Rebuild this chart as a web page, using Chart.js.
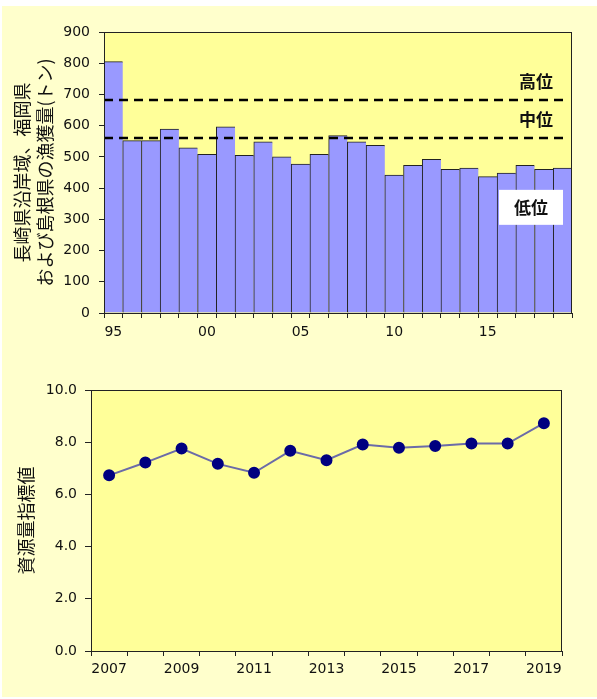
<!DOCTYPE html>
<html lang="ja">
<head>
<meta charset="UTF-8">
<title>漁獲量と資源量指標値</title>
<script src="https://cdn.jsdelivr.net/npm/chart.js"></script>
<style>
  html, body { margin: 0; padding: 0; background: #fff; }
  #panel { position: absolute; left: 2px; top: 6px; width: 595px; height: 691px; background: #FFFFCC; }
  #catchWrap { position: absolute; left: 0; top: 0; }
  #indexWrap { position: absolute; left: 0; top: 345px; }
</style>
</head>
<body>
<div id="panel"></div>
<div id="catchWrap"><canvas id="catchChart" width="597" height="345"></canvas></div>
<div id="indexWrap"><canvas id="indexChart" width="597" height="354"></canvas></div>

<script>
// 漁獲量 (トン), 1995-2019
const catchYears = [1995, 1996, 1997, 1998, 1999, 2000, 2001, 2002, 2003, 2004, 2005, 2006, 2007,
                    2008, 2009, 2010, 2011, 2012, 2013, 2014, 2015, 2016, 2017, 2018, 2019];
const catchTons = [805, 552, 552, 589, 529, 508, 596, 505, 548, 500, 477, 508, 568,
                   548, 537, 442, 473, 492, 460, 464, 437, 448, 473, 460, 464];
// 水準の境界 (高位/中位, 中位/低位)
const levelBounds = [683, 560];
const levelNames = ['高位', '中位', '低位'];

// 資源量指標値, 2007-2019
const indexYears = [2007, 2008, 2009, 2010, 2011, 2012, 2013, 2014, 2015, 2016, 2017, 2018, 2019];
const indexValues = [6.73, 7.22, 7.76, 7.17, 6.83, 7.67, 7.31, 7.91, 7.79, 7.85, 7.95, 7.95, 8.73];

const tickFont = { family: 'DejaVu Sans', size: 14 };
const cjkFont = '"Noto Sans CJK JP", sans-serif';
const ink = '#111';

// plot background + frame
const plotFrame = {
  id: 'plotFrame',
  beforeDraw(chart) {
    const { ctx, chartArea: a } = chart;
    ctx.save();
    ctx.fillStyle = '#FFFF99';
    ctx.fillRect(a.left, a.top, a.right - a.left, a.bottom - a.top);
    ctx.restore();
  },
  afterDraw(chart) {
    const { ctx, chartArea: a } = chart;
    ctx.save();
    ctx.strokeStyle = '#222';
    ctx.lineWidth = 1;
    ctx.strokeRect(a.left + 0.5, a.top + 0.5, a.right - a.left - 1, a.bottom - a.top);
    ctx.restore();
  }
};

// dashed level lines and labels
const levelMarks = {
  id: 'levelMarks',
  afterDatasetsDraw(chart) {
    const { ctx, chartArea: a, scales: { y } } = chart;
    ctx.save();
    ctx.strokeStyle = '#000';
    ctx.lineWidth = 2.5;
    ctx.setLineDash([9, 6]);
    levelBounds.forEach(v => {
      const py = Math.round(y.getPixelForValue(v));
      ctx.beginPath();
      ctx.moveTo(a.left, py);
      ctx.lineTo(a.right - 4, py);
      ctx.stroke();
    });
    ctx.setLineDash([]);

    ctx.font = 'bold 17px ' + cjkFont;
    ctx.textAlign = 'center';
    ctx.textBaseline = 'middle';
    ctx.fillStyle = ink;
    ctx.fillText(levelNames[0], a.right - 36, y.getPixelForValue(742));
    ctx.fillText(levelNames[1], a.right - 36, y.getPixelForValue(620));

    const cy = y.getPixelForValue(340);
    const cx = a.right - 41;
    ctx.fillStyle = '#fff';
    ctx.fillRect(cx - 32, cy - 17, 64, 35);
    ctx.fillStyle = ink;
    ctx.fillText(levelNames[2], cx, cy + 1);
    ctx.restore();
  }
};

new Chart(document.getElementById('catchChart'), {
  type: 'bar',
  data: {
    labels: catchYears,
    datasets: [{
      data: catchTons,
      backgroundColor: '#9999FF',
      borderColor: '#222',
      borderWidth: { top: 1, left: 1, right: 0, bottom: 0 },
      borderSkipped: false,
      barPercentage: 1,
      categoryPercentage: 1
    }]
  },
  options: {
    responsive: false,
    animation: false,
    layout: { padding: { left: 0, right: 25, top: 32, bottom: 7 } },
    plugins: { legend: { display: false }, tooltip: { enabled: false } },
    scales: {
      x: {
        offset: true,
        afterFit: s => { s.height = 25; },
        grid: { offset: true, drawOnChartArea: false, tickLength: 5, tickColor: '#222' },
        border: { color: '#222' },
        ticks: {
          autoSkip: false, maxRotation: 0, padding: 6, color: ink, font: tickFont,
          callback: (v, i) => i % 5 === 0 ? String(catchYears[i]).slice(2) : ''
        }
      },
      y: {
        min: 0, max: 900,
        afterFit: s => { s.width = 104; },
        grid: { drawOnChartArea: false, tickLength: 5, tickColor: '#222' },
        border: { color: '#222' },
        ticks: { stepSize: 100, padding: 9, color: ink, font: tickFont },
        title: {
          display: true,
          text: ['長崎県沿岸域、福岡県', 'および島根県の漁獲量(トン)'],
          color: ink,
          font: { family: cjkFont, size: 18, lineHeight: 23 / 18 },
          padding: { top: 11, bottom: 0 }
        }
      }
    }
  },
  plugins: [plotFrame, levelMarks]
});

new Chart(document.getElementById('indexChart'), {
  type: 'line',
  data: {
    labels: indexYears,
    datasets: [{
      data: indexValues,
      borderColor: '#6B6BA8',
      borderWidth: 2,
      pointBackgroundColor: '#000080',
      pointBorderColor: '#000080',
      pointRadius: 5,
      tension: 0
    }]
  },
  options: {
    responsive: false,
    animation: false,
    layout: { padding: { left: 0, right: 35, top: 45, bottom: 18 } },
    plugins: { legend: { display: false }, tooltip: { enabled: false } },
    scales: {
      x: {
        offset: true,
        afterFit: s => { s.height = 30; },
        grid: { offset: true, drawOnChartArea: false, tickLength: 5, tickColor: '#222' },
        border: { color: '#222' },
        ticks: {
          autoSkip: false, maxRotation: 0, padding: 5, color: ink, font: tickFont,
          callback: (v, i) => i % 2 === 0 ? String(indexYears[i]) : ''
        }
      },
      y: {
        min: 0, max: 10,
        afterFit: s => { s.width = 91; },
        grid: { drawOnChartArea: false, tickLength: 6, tickColor: '#222' },
        border: { color: '#222' },
        ticks: { stepSize: 2, padding: 8, color: ink, font: tickFont, callback: v => v.toFixed(1) },
        title: {
          display: true,
          text: '資源量指標値',
          color: ink,
          font: { family: cjkFont, size: 18, lineHeight: 1.2 },
          padding: { top: 15, bottom: 0 }
        }
      }
    }
  },
  plugins: [plotFrame]
});
</script>
</body>
</html>
